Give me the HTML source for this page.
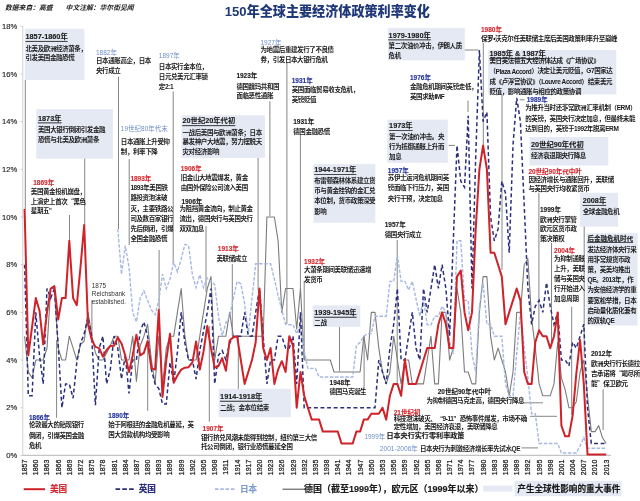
<!DOCTYPE html>
<html><head><meta charset="utf-8"><title>150年全球主要经济体政策利率变化</title>
<style>html,body{margin:0;padding:0;background:#fff;} body{width:640px;height:501px;overflow:hidden;} svg{display:block;font-family:"Liberation Sans","Noto Sans CJK SC",sans-serif;}</style>
</head><body>
<svg width="640" height="501" viewBox="0 0 640 501"><rect width="640" height="501" fill="#fff"/><rect x="24.8" y="28.8" width="59.6" height="51.2" fill="#e5e9f4"/><rect x="36.3" y="109.1" width="76.6" height="49.6" fill="#e5e9f4"/><rect x="181.4" y="115.3" width="83.6" height="42.6" fill="#e5e9f4"/><rect x="387.9" y="27.9" width="76.9" height="32.4" fill="#e5e9f4"/><rect x="488.2" y="50" width="128.1" height="44.5" fill="#e5e9f4"/><rect x="387.3" y="119.7" width="60.5" height="43.1" fill="#e5e9f4"/><rect x="313.4" y="164.1" width="61.9" height="58.7" fill="#e5e9f4"/><rect x="529.5" y="137" width="78.8" height="28.5" fill="#e5e9f4"/><rect x="579.9" y="192.8" width="38.2" height="33.9" fill="#e5e9f4"/><rect x="586.6" y="233.3" width="51.0" height="92.2" fill="#e5e9f4"/><rect x="312.7" y="305.4" width="47.6" height="21.5" fill="#e5e9f4"/><rect x="218.6" y="388.8" width="72.2" height="28.4" fill="#e5e9f4"/><line x1="22.8" y1="26.3" x2="22.8" y2="455.4" stroke="#d2d2d2" stroke-width="1"/><line x1="22.5" y1="455.4" x2="611" y2="455.4" stroke="#c4c4c4" stroke-width="1.2"/><line x1="20.5" y1="455.4" x2="22.8" y2="455.4" stroke="#c4c4c4" stroke-width="0.8"/><text x="17.3" y="455.4" font-size="7.6" fill="#262626" stroke="#262626" stroke-width="0.15" text-anchor="end" dominant-baseline="central">0%</text><line x1="20.5" y1="407.7" x2="22.8" y2="407.7" stroke="#c4c4c4" stroke-width="0.8"/><text x="17.3" y="407.7" font-size="7.6" fill="#262626" stroke="#262626" stroke-width="0.15" text-anchor="end" dominant-baseline="central">2%</text><line x1="20.5" y1="360.0" x2="22.8" y2="360.0" stroke="#c4c4c4" stroke-width="0.8"/><text x="17.3" y="360.0" font-size="7.6" fill="#262626" stroke="#262626" stroke-width="0.15" text-anchor="end" dominant-baseline="central">4%</text><line x1="20.5" y1="312.4" x2="22.8" y2="312.4" stroke="#c4c4c4" stroke-width="0.8"/><text x="17.3" y="312.4" font-size="7.6" fill="#262626" stroke="#262626" stroke-width="0.15" text-anchor="end" dominant-baseline="central">6%</text><line x1="20.5" y1="264.7" x2="22.8" y2="264.7" stroke="#c4c4c4" stroke-width="0.8"/><text x="17.3" y="264.7" font-size="7.6" fill="#262626" stroke="#262626" stroke-width="0.15" text-anchor="end" dominant-baseline="central">8%</text><line x1="20.5" y1="217.0" x2="22.8" y2="217.0" stroke="#c4c4c4" stroke-width="0.8"/><text x="17.3" y="217.0" font-size="7.6" fill="#262626" stroke="#262626" stroke-width="0.15" text-anchor="end" dominant-baseline="central">10%</text><line x1="20.5" y1="169.3" x2="22.8" y2="169.3" stroke="#c4c4c4" stroke-width="0.8"/><text x="17.3" y="169.3" font-size="7.6" fill="#262626" stroke="#262626" stroke-width="0.15" text-anchor="end" dominant-baseline="central">12%</text><line x1="20.5" y1="121.6" x2="22.8" y2="121.6" stroke="#c4c4c4" stroke-width="0.8"/><text x="17.3" y="121.6" font-size="7.6" fill="#262626" stroke="#262626" stroke-width="0.15" text-anchor="end" dominant-baseline="central">14%</text><line x1="20.5" y1="74.0" x2="22.8" y2="74.0" stroke="#c4c4c4" stroke-width="0.8"/><text x="17.3" y="74.0" font-size="7.6" fill="#262626" stroke="#262626" stroke-width="0.15" text-anchor="end" dominant-baseline="central">16%</text><line x1="20.5" y1="26.3" x2="22.8" y2="26.3" stroke="#c4c4c4" stroke-width="0.8"/><text x="17.3" y="26.3" font-size="7.6" fill="#262626" stroke="#262626" stroke-width="0.15" text-anchor="end" dominant-baseline="central">18%</text><text transform="translate(24.60,459.6) rotate(-90)" font-size="7" fill="#1e1e1e" stroke="#1e1e1e" stroke-width="0.25" text-anchor="end" dominant-baseline="central">1857</text><text transform="translate(35.78,459.6) rotate(-90)" font-size="7" fill="#1e1e1e" stroke="#1e1e1e" stroke-width="0.25" text-anchor="end" dominant-baseline="central">1860</text><text transform="translate(46.97,459.6) rotate(-90)" font-size="7" fill="#1e1e1e" stroke="#1e1e1e" stroke-width="0.25" text-anchor="end" dominant-baseline="central">1863</text><text transform="translate(58.15,459.6) rotate(-90)" font-size="7" fill="#1e1e1e" stroke="#1e1e1e" stroke-width="0.25" text-anchor="end" dominant-baseline="central">1866</text><text transform="translate(69.34,459.6) rotate(-90)" font-size="7" fill="#1e1e1e" stroke="#1e1e1e" stroke-width="0.25" text-anchor="end" dominant-baseline="central">1869</text><text transform="translate(80.52,459.6) rotate(-90)" font-size="7" fill="#1e1e1e" stroke="#1e1e1e" stroke-width="0.25" text-anchor="end" dominant-baseline="central">1872</text><text transform="translate(91.70,459.6) rotate(-90)" font-size="7" fill="#1e1e1e" stroke="#1e1e1e" stroke-width="0.25" text-anchor="end" dominant-baseline="central">1875</text><text transform="translate(102.89,459.6) rotate(-90)" font-size="7" fill="#1e1e1e" stroke="#1e1e1e" stroke-width="0.25" text-anchor="end" dominant-baseline="central">1878</text><text transform="translate(114.07,459.6) rotate(-90)" font-size="7" fill="#1e1e1e" stroke="#1e1e1e" stroke-width="0.25" text-anchor="end" dominant-baseline="central">1881</text><text transform="translate(125.26,459.6) rotate(-90)" font-size="7" fill="#1e1e1e" stroke="#1e1e1e" stroke-width="0.25" text-anchor="end" dominant-baseline="central">1884</text><text transform="translate(136.44,459.6) rotate(-90)" font-size="7" fill="#1e1e1e" stroke="#1e1e1e" stroke-width="0.25" text-anchor="end" dominant-baseline="central">1887</text><text transform="translate(147.62,459.6) rotate(-90)" font-size="7" fill="#1e1e1e" stroke="#1e1e1e" stroke-width="0.25" text-anchor="end" dominant-baseline="central">1890</text><text transform="translate(158.81,459.6) rotate(-90)" font-size="7" fill="#1e1e1e" stroke="#1e1e1e" stroke-width="0.25" text-anchor="end" dominant-baseline="central">1893</text><text transform="translate(169.99,459.6) rotate(-90)" font-size="7" fill="#1e1e1e" stroke="#1e1e1e" stroke-width="0.25" text-anchor="end" dominant-baseline="central">1896</text><text transform="translate(181.18,459.6) rotate(-90)" font-size="7" fill="#1e1e1e" stroke="#1e1e1e" stroke-width="0.25" text-anchor="end" dominant-baseline="central">1899</text><text transform="translate(192.36,459.6) rotate(-90)" font-size="7" fill="#1e1e1e" stroke="#1e1e1e" stroke-width="0.25" text-anchor="end" dominant-baseline="central">1902</text><text transform="translate(203.54,459.6) rotate(-90)" font-size="7" fill="#1e1e1e" stroke="#1e1e1e" stroke-width="0.25" text-anchor="end" dominant-baseline="central">1905</text><text transform="translate(214.73,459.6) rotate(-90)" font-size="7" fill="#1e1e1e" stroke="#1e1e1e" stroke-width="0.25" text-anchor="end" dominant-baseline="central">1908</text><text transform="translate(225.91,459.6) rotate(-90)" font-size="7" fill="#1e1e1e" stroke="#1e1e1e" stroke-width="0.25" text-anchor="end" dominant-baseline="central">1911</text><text transform="translate(237.10,459.6) rotate(-90)" font-size="7" fill="#1e1e1e" stroke="#1e1e1e" stroke-width="0.25" text-anchor="end" dominant-baseline="central">1914</text><text transform="translate(248.28,459.6) rotate(-90)" font-size="7" fill="#1e1e1e" stroke="#1e1e1e" stroke-width="0.25" text-anchor="end" dominant-baseline="central">1917</text><text transform="translate(259.46,459.6) rotate(-90)" font-size="7" fill="#1e1e1e" stroke="#1e1e1e" stroke-width="0.25" text-anchor="end" dominant-baseline="central">1920</text><text transform="translate(270.65,459.6) rotate(-90)" font-size="7" fill="#1e1e1e" stroke="#1e1e1e" stroke-width="0.25" text-anchor="end" dominant-baseline="central">1923</text><text transform="translate(281.83,459.6) rotate(-90)" font-size="7" fill="#1e1e1e" stroke="#1e1e1e" stroke-width="0.25" text-anchor="end" dominant-baseline="central">1926</text><text transform="translate(293.02,459.6) rotate(-90)" font-size="7" fill="#1e1e1e" stroke="#1e1e1e" stroke-width="0.25" text-anchor="end" dominant-baseline="central">1929</text><text transform="translate(304.20,459.6) rotate(-90)" font-size="7" fill="#1e1e1e" stroke="#1e1e1e" stroke-width="0.25" text-anchor="end" dominant-baseline="central">1932</text><text transform="translate(315.38,459.6) rotate(-90)" font-size="7" fill="#1e1e1e" stroke="#1e1e1e" stroke-width="0.25" text-anchor="end" dominant-baseline="central">1935</text><text transform="translate(326.57,459.6) rotate(-90)" font-size="7" fill="#1e1e1e" stroke="#1e1e1e" stroke-width="0.25" text-anchor="end" dominant-baseline="central">1938</text><text transform="translate(337.75,459.6) rotate(-90)" font-size="7" fill="#1e1e1e" stroke="#1e1e1e" stroke-width="0.25" text-anchor="end" dominant-baseline="central">1941</text><text transform="translate(348.94,459.6) rotate(-90)" font-size="7" fill="#1e1e1e" stroke="#1e1e1e" stroke-width="0.25" text-anchor="end" dominant-baseline="central">1944</text><text transform="translate(360.12,459.6) rotate(-90)" font-size="7" fill="#1e1e1e" stroke="#1e1e1e" stroke-width="0.25" text-anchor="end" dominant-baseline="central">1947</text><text transform="translate(371.30,459.6) rotate(-90)" font-size="7" fill="#1e1e1e" stroke="#1e1e1e" stroke-width="0.25" text-anchor="end" dominant-baseline="central">1950</text><text transform="translate(382.49,459.6) rotate(-90)" font-size="7" fill="#1e1e1e" stroke="#1e1e1e" stroke-width="0.25" text-anchor="end" dominant-baseline="central">1953</text><text transform="translate(393.67,459.6) rotate(-90)" font-size="7" fill="#1e1e1e" stroke="#1e1e1e" stroke-width="0.25" text-anchor="end" dominant-baseline="central">1956</text><text transform="translate(404.86,459.6) rotate(-90)" font-size="7" fill="#1e1e1e" stroke="#1e1e1e" stroke-width="0.25" text-anchor="end" dominant-baseline="central">1959</text><text transform="translate(416.04,459.6) rotate(-90)" font-size="7" fill="#1e1e1e" stroke="#1e1e1e" stroke-width="0.25" text-anchor="end" dominant-baseline="central">1962</text><text transform="translate(427.22,459.6) rotate(-90)" font-size="7" fill="#1e1e1e" stroke="#1e1e1e" stroke-width="0.25" text-anchor="end" dominant-baseline="central">1965</text><text transform="translate(438.41,459.6) rotate(-90)" font-size="7" fill="#1e1e1e" stroke="#1e1e1e" stroke-width="0.25" text-anchor="end" dominant-baseline="central">1968</text><text transform="translate(449.59,459.6) rotate(-90)" font-size="7" fill="#1e1e1e" stroke="#1e1e1e" stroke-width="0.25" text-anchor="end" dominant-baseline="central">1971</text><text transform="translate(460.78,459.6) rotate(-90)" font-size="7" fill="#1e1e1e" stroke="#1e1e1e" stroke-width="0.25" text-anchor="end" dominant-baseline="central">1974</text><text transform="translate(471.96,459.6) rotate(-90)" font-size="7" fill="#1e1e1e" stroke="#1e1e1e" stroke-width="0.25" text-anchor="end" dominant-baseline="central">1977</text><text transform="translate(483.14,459.6) rotate(-90)" font-size="7" fill="#1e1e1e" stroke="#1e1e1e" stroke-width="0.25" text-anchor="end" dominant-baseline="central">1980</text><text transform="translate(494.33,459.6) rotate(-90)" font-size="7" fill="#1e1e1e" stroke="#1e1e1e" stroke-width="0.25" text-anchor="end" dominant-baseline="central">1983</text><text transform="translate(505.51,459.6) rotate(-90)" font-size="7" fill="#1e1e1e" stroke="#1e1e1e" stroke-width="0.25" text-anchor="end" dominant-baseline="central">1986</text><text transform="translate(516.70,459.6) rotate(-90)" font-size="7" fill="#1e1e1e" stroke="#1e1e1e" stroke-width="0.25" text-anchor="end" dominant-baseline="central">1989</text><text transform="translate(527.88,459.6) rotate(-90)" font-size="7" fill="#1e1e1e" stroke="#1e1e1e" stroke-width="0.25" text-anchor="end" dominant-baseline="central">1992</text><text transform="translate(539.06,459.6) rotate(-90)" font-size="7" fill="#1e1e1e" stroke="#1e1e1e" stroke-width="0.25" text-anchor="end" dominant-baseline="central">1995</text><text transform="translate(550.25,459.6) rotate(-90)" font-size="7" fill="#1e1e1e" stroke="#1e1e1e" stroke-width="0.25" text-anchor="end" dominant-baseline="central">1998</text><text transform="translate(561.43,459.6) rotate(-90)" font-size="7" fill="#1e1e1e" stroke="#1e1e1e" stroke-width="0.25" text-anchor="end" dominant-baseline="central">2001</text><text transform="translate(572.62,459.6) rotate(-90)" font-size="7" fill="#1e1e1e" stroke="#1e1e1e" stroke-width="0.25" text-anchor="end" dominant-baseline="central">2004</text><text transform="translate(583.80,459.6) rotate(-90)" font-size="7" fill="#1e1e1e" stroke="#1e1e1e" stroke-width="0.25" text-anchor="end" dominant-baseline="central">2007</text><text transform="translate(594.98,459.6) rotate(-90)" font-size="7" fill="#1e1e1e" stroke="#1e1e1e" stroke-width="0.25" text-anchor="end" dominant-baseline="central">2010</text><text transform="translate(606.17,459.6) rotate(-90)" font-size="7" fill="#1e1e1e" stroke="#1e1e1e" stroke-width="0.25" text-anchor="end" dominant-baseline="central">2013</text><line x1="25.3" y1="80" x2="25.3" y2="209" stroke="#5e5e5e" stroke-width="0.75"/><line x1="84.7" y1="158.7" x2="84.7" y2="225" stroke="#5e5e5e" stroke-width="0.75"/><line x1="118.5" y1="76.6" x2="118.5" y2="229" stroke="#5e5e5e" stroke-width="0.75"/><line x1="129.2" y1="159.1" x2="129.2" y2="245" stroke="#5e5e5e" stroke-width="0.75"/><line x1="173.2" y1="91.4" x2="173.2" y2="264" stroke="#5e5e5e" stroke-width="0.75"/><line x1="159.1" y1="250" x2="159.1" y2="310" stroke="#5e5e5e" stroke-width="0.75"/><line x1="69.5" y1="215" x2="69.5" y2="240" stroke="#5e5e5e" stroke-width="0.75"/><line x1="269.9" y1="101.2" x2="269.9" y2="216" stroke="#5e5e5e" stroke-width="0.75"/><line x1="286.9" y1="63" x2="286.9" y2="324" stroke="#5e5e5e" stroke-width="0.75"/><line x1="300.4" y1="135.3" x2="300.4" y2="290" stroke="#5e5e5e" stroke-width="0.75"/><line x1="258.1" y1="157.9" x2="258.1" y2="290" stroke="#5e5e5e" stroke-width="0.75"/><line x1="232.3" y1="264" x2="232.3" y2="336" stroke="#5e5e5e" stroke-width="0.75"/><line x1="56.6" y1="417.8" x2="56.6" y2="340" stroke="#5e5e5e" stroke-width="0.75"/><line x1="147.7" y1="410.8" x2="147.7" y2="341" stroke="#5e5e5e" stroke-width="0.75"/><line x1="209.3" y1="421.7" x2="209.3" y2="326" stroke="#5e5e5e" stroke-width="0.75"/><line x1="238.3" y1="388.8" x2="238.3" y2="336" stroke="#5e5e5e" stroke-width="0.75"/><line x1="339.5" y1="326.9" x2="339.5" y2="371.2" stroke="#5e5e5e" stroke-width="0.75"/><line x1="364.1" y1="390" x2="364.1" y2="336" stroke="#5e5e5e" stroke-width="0.75"/><line x1="397.2" y1="240" x2="397.2" y2="383" stroke="#5e5e5e" stroke-width="0.75"/><line x1="304.2" y1="281" x2="304.2" y2="359.5" stroke="#5e5e5e" stroke-width="0.75"/><line x1="206" y1="226" x2="206" y2="292" stroke="#5e5e5e" stroke-width="0.75"/><line x1="464.8" y1="50" x2="478.4" y2="50" stroke="#5e5e5e" stroke-width="0.75"/><line x1="483.3" y1="43" x2="483.3" y2="144.7" stroke="#5e5e5e" stroke-width="0.75"/><line x1="468" y1="100.6" x2="468" y2="112" stroke="#5e5e5e" stroke-width="0.75"/><line x1="448.7" y1="145.4" x2="455" y2="145.4" stroke="#5e5e5e" stroke-width="0.75"/><line x1="502" y1="94.5" x2="502" y2="270" stroke="#5e5e5e" stroke-width="0.75"/><line x1="519.7" y1="99.8" x2="524.5" y2="99.8" stroke="#5e5e5e" stroke-width="0.75"/><line x1="538.9" y1="192.8" x2="538.9" y2="335" stroke="#5e5e5e" stroke-width="0.75"/><line x1="551.5" y1="243" x2="551.5" y2="346" stroke="#5e5e5e" stroke-width="0.75"/><line x1="571.7" y1="306.8" x2="571.7" y2="415" stroke="#5e5e5e" stroke-width="0.75"/><line x1="584.2" y1="226.7" x2="584.2" y2="356" stroke="#5e5e5e" stroke-width="0.75"/><line x1="603.1" y1="389.3" x2="603.1" y2="430" stroke="#5e5e5e" stroke-width="0.75"/><line x1="524" y1="402.8" x2="543" y2="402.8" stroke="#5e5e5e" stroke-width="0.75"/><line x1="530" y1="416.3" x2="557" y2="416.3" stroke="#5e5e5e" stroke-width="0.75"/><line x1="521.5" y1="447.9" x2="538" y2="447.9" stroke="#5e5e5e" stroke-width="0.75"/><line x1="91.9" y1="300" x2="91.9" y2="335" stroke="#5e5e5e" stroke-width="0.75"/><polyline points="24.6,336.2 28.3,372.0 32.1,377.9 35.8,360.0 39.5,360.0 43.2,360.0 47.0,348.1 50.7,288.5 54.4,288.5 58.2,348.1 61.9,360.0 65.6,360.0 69.3,336.2 73.1,348.1 76.8,360.0 80.5,344.5 84.2,341.0 88.0,312.4 91.7,334.8 95.4,352.9 99.2,360.0 102.9,360.0 106.6,352.9 110.3,345.7 114.1,336.2 117.8,336.2 121.5,360.0 125.3,360.0 129.0,360.0 132.7,336.2 136.4,381.5 140.2,345.7 143.9,336.2 147.6,324.3 151.4,360.0 155.1,383.9 158.8,336.2 162.5,386.3 166.3,348.1 170.0,336.2 173.7,336.2 177.4,312.4 181.2,288.5 184.9,336.2 188.6,360.0 192.4,360.0 196.1,360.0 199.8,336.2 203.5,312.4 207.3,288.5 211.0,276.6 214.7,360.0 218.5,336.2 222.2,336.2 225.9,336.2 229.6,312.4 233.4,336.2 237.1,336.2 240.8,336.2 244.6,336.2 248.3,336.2 252.0,336.2 255.7,336.2 259.5,336.2 263.2,336.2 266.9,217.0 270.6,217.0 274.4,217.0 278.1,240.8 281.8,312.4 285.6,288.5 289.3,288.5 293.0,288.5 296.7,329.0 300.5,288.5 304.2,360.0 307.9,360.0 311.7,360.0 315.4,360.0 319.1,360.0 322.8,360.0 326.6,360.0 330.3,360.0 334.0,372.0 337.8,372.0 341.5,372.0 345.2,372.0 348.9,372.0 352.7,372.0 356.4,372.0 360.1,372.0 363.8,336.2 367.6,360.0 371.3,312.4 375.0,312.4 378.8,348.1 382.5,372.0 386.2,383.9 389.9,372.0 393.7,336.2 397.4,360.0 401.1,383.9 404.9,360.0 408.6,360.0 412.3,383.9 416.0,383.9 419.8,383.9 423.5,383.9 427.2,360.0 431.0,336.2 434.7,383.9 438.4,383.9 442.1,312.4 445.9,312.4 449.6,360.0 453.3,348.1 457.0,288.5 460.8,312.4 464.5,372.0 468.2,372.0 472.0,383.9 475.7,383.9 479.4,312.4 483.1,276.6 486.9,276.6 490.6,336.2 494.3,360.0 498.1,348.1 501.8,360.0 505.5,372.0 509.2,395.8 513.0,372.0 516.7,312.4 520.4,312.4 524.2,264.7 527.9,258.7 531.6,318.3 535.3,348.1 539.1,383.9 542.8,395.8 546.5,395.8 550.2,395.8 554.0,383.9 557.7,342.2 561.4,377.9 565.2,389.8 568.9,407.7 572.6,407.7 576.3,401.8 580.1,372.0 583.8,360.0 587.5,395.8 591.3,431.6 595.0,431.6 598.7,425.6 602.4,437.5 606.2,443.5" fill="none" stroke="#7c7c7c" stroke-width="1.1" stroke-linejoin="round"/><polyline points="117.8,228.9 121.5,274.2 125.3,245.6 129.0,267.1 132.7,312.4 136.4,321.9 140.2,298.1 143.9,290.9 147.6,300.4 151.4,310.0 155.1,314.7 158.8,300.4 162.5,274.2 166.3,288.5 170.0,279.0 173.7,262.3 177.4,271.8 181.2,258.7 184.9,244.4 188.6,245.6 192.4,274.9 196.1,287.6 199.8,274.9 203.5,287.6 207.3,278.0 211.0,281.4 214.7,284.5 218.5,316.4 222.2,335.7 225.9,322.8 229.6,316.4 233.4,298.1 237.1,281.4 240.8,283.8 244.6,303.5 248.3,333.8 252.0,298.1 255.7,263.7 259.5,263.7 263.2,263.7 266.9,263.7 270.6,263.7 274.4,279.0 278.1,295.7 281.8,310.0 285.6,324.3 289.3,324.8 293.0,324.8 296.7,333.6 300.5,324.3 304.2,351.0 307.9,368.4 311.7,368.4 315.4,368.4 319.1,377.0 322.8,377.0 326.6,377.0 330.3,377.0 334.0,377.0 337.8,377.0 341.5,377.0 345.2,377.0 348.9,377.0 352.7,377.0 356.4,345.7 360.1,342.2 363.8,336.2 367.6,333.6 371.3,333.6 375.0,316.2 378.8,316.2 382.5,316.2 386.2,316.2 389.9,281.4 393.7,281.4 397.4,255.1 401.1,281.4 404.9,281.4 408.6,290.0 412.3,281.4 416.0,298.8 419.8,316.2 423.5,298.8 427.2,324.8 431.0,324.8 434.7,316.2 438.4,316.2 442.1,306.4 445.9,312.4 449.6,342.2 453.3,354.1 457.0,240.8 460.8,240.8 464.5,300.4 468.2,300.4 472.0,354.1 475.7,372.0 479.4,306.4 483.1,282.6 486.9,324.3 490.6,324.3 494.3,336.2 498.1,336.2 501.8,336.2 505.5,383.9 509.2,395.8 513.0,395.8 516.7,354.1 520.4,312.4 524.2,348.1 527.9,377.9 531.6,413.7 535.3,413.7 539.1,443.5 542.8,443.5 546.5,443.5 550.2,443.5 554.0,443.5 557.7,443.5 561.4,453.0 565.2,453.0 568.9,453.0 572.6,453.0 576.3,453.0 580.1,445.9 583.8,437.5 587.5,448.2 591.3,448.2 595.0,448.2 598.7,448.2 602.4,448.2 606.2,448.2" fill="none" stroke="#a6b8e1" stroke-width="1.4" stroke-dasharray="3.5 1.6"/><polyline points="24.6,264.7 28.3,395.8 32.1,395.8 35.8,312.4 39.5,355.3 43.2,383.9 47.0,288.5 50.7,298.1 54.4,288.5 58.2,345.7 61.9,407.7 65.6,383.9 69.3,383.9 73.1,398.2 76.8,362.4 80.5,343.4 84.2,333.8 88.0,317.1 91.7,336.2 95.4,405.3 99.2,348.1 102.9,336.2 106.6,383.9 110.3,369.6 114.1,336.2 117.8,348.1 121.5,379.1 125.3,355.3 129.0,393.4 132.7,360.0 136.4,360.0 140.2,331.4 143.9,321.9 147.6,336.2 151.4,369.6 155.1,383.9 158.8,388.6 162.5,404.1 166.3,404.1 170.0,362.4 173.7,382.7 177.4,352.2 181.2,312.4 184.9,343.4 188.6,360.0 192.4,360.0 196.1,379.1 199.8,350.5 203.5,331.4 207.3,312.4 211.0,288.5 214.7,383.9 218.5,355.3 222.2,350.5 225.9,360.0 229.6,343.4 233.4,336.2 237.1,336.2 240.8,336.2 244.6,312.4 248.3,336.2 252.0,336.2 255.7,312.4 259.5,288.5 263.2,336.2 266.9,383.9 270.6,360.0 274.4,360.0 278.1,336.2 281.8,336.2 285.6,348.1 289.3,348.1 293.0,336.2 296.7,383.9 300.5,312.4 304.2,407.7 307.9,407.7 311.7,407.7 315.4,407.7 319.1,407.7 322.8,407.7 326.6,407.7 330.3,407.7 334.0,407.7 337.8,407.7 341.5,407.7 345.2,407.7 348.9,407.7 352.7,407.7 356.4,407.7 360.1,407.7 363.8,407.7 367.6,407.7 371.3,407.7 375.0,407.7 378.8,360.0 382.5,372.0 386.2,383.9 389.9,348.1 393.7,324.3 397.4,288.5 401.1,360.0 404.9,360.0 408.6,336.2 412.3,312.4 416.0,348.1 419.8,360.0 423.5,288.5 427.2,312.4 431.0,288.5 434.7,264.7 438.4,288.5 442.1,264.7 445.9,288.5 449.6,336.2 453.3,240.8 457.0,145.5 460.8,181.2 464.5,187.2 468.2,115.7 472.0,288.5 475.7,157.4 479.4,50.1 483.1,121.6 486.9,112.1 490.6,217.0 494.3,240.8 498.1,228.9 501.8,181.2 505.5,193.2 509.2,252.8 513.0,145.5 516.7,97.8 520.4,121.6 524.2,205.1 527.9,288.5 531.6,324.3 535.3,306.4 539.1,300.4 542.8,312.4 546.5,282.6 550.2,306.4 554.0,324.3 557.7,312.4 561.4,360.0 565.2,360.0 568.9,366.0 572.6,342.2 576.3,348.1 580.1,336.2 583.8,324.3 587.5,407.7 591.3,443.5 595.0,443.5 598.7,443.5 602.4,443.5 606.2,443.5" fill="none" stroke="#2a2e7c" stroke-width="1.5" stroke-dasharray="3.9 2.7"/><polyline points="24.6,208.9 28.3,355.3 32.1,326.7 35.8,298.1 39.5,310.7 43.2,344.5 47.0,312.4 50.7,288.5 54.4,286.1 58.2,319.5 61.9,298.1 65.6,298.1 69.3,240.8 73.1,298.1 76.8,305.2 80.5,267.1 84.2,224.9 88.0,324.3 91.7,339.5 95.4,346.9 99.2,348.1 102.9,356.7 106.6,350.0 110.3,346.0 114.1,345.7 117.8,337.4 121.5,343.4 125.3,355.7 129.0,372.0 132.7,355.3 136.4,334.8 140.2,355.3 143.9,352.9 147.6,341.0 151.4,368.4 155.1,369.6 158.8,310.0 162.5,397.0 166.3,360.0 170.0,333.8 173.7,382.7 177.4,375.5 181.2,369.6 184.9,367.7 188.6,367.2 192.4,362.4 196.1,341.4 199.8,369.6 203.5,351.7 207.3,325.9 211.0,348.4 214.7,367.7 218.5,366.0 222.2,358.1 225.9,370.8 229.6,340.5 233.4,337.2 237.1,336.2 240.8,360.0 244.6,383.9 248.3,372.0 252.0,360.0 255.7,342.2 259.5,288.5 263.2,348.1 266.9,360.0 270.6,348.1 274.4,383.9 278.1,369.6 281.8,361.2 285.6,372.0 289.3,336.2 293.0,345.7 296.7,407.7 300.5,372.0 304.2,395.8 307.9,407.7 311.7,419.6 315.4,419.6 319.1,419.6 322.8,431.6 326.6,431.6 330.3,431.6 334.0,431.6 337.8,431.6 341.5,443.5 345.2,443.5 348.9,443.5 352.7,443.5 356.4,431.6 360.1,431.6 363.8,419.6 367.6,419.6 371.3,413.7 375.0,413.7 378.8,413.7 382.5,407.7 386.2,419.6 389.9,395.8 393.7,383.9 397.4,383.9 401.1,395.8 404.9,360.0 408.6,383.9 412.3,383.9 416.0,383.9 419.8,372.0 423.5,360.0 427.2,348.1 431.0,348.1 434.7,348.1 438.4,324.3 442.1,312.4 445.9,324.3 449.6,348.1 453.3,348.1 457.0,276.6 460.8,270.6 464.5,312.4 468.2,330.2 472.0,312.4 475.7,228.9 479.4,169.3 483.1,145.5 486.9,169.3 490.6,252.8 494.3,252.8 498.1,264.7 501.8,276.6 505.5,324.3 509.2,312.4 513.0,300.4 516.7,288.5 520.4,300.4 524.2,372.0 527.9,383.9 531.6,383.9 535.3,342.2 539.1,330.2 542.8,336.2 546.5,336.2 550.2,348.1 554.0,336.2 557.7,312.4 561.4,425.6 565.2,436.3 568.9,436.3 572.6,415.6 576.3,373.9 580.1,340.0 583.8,383.9 587.5,454.4 591.3,454.4 595.0,454.4 598.7,454.4 602.4,454.4 606.2,454.4" fill="none" stroke="#cf2229" stroke-width="2.0" stroke-linejoin="round"/><text x="25.5" y="36.5" font-size="7.3" font-weight="bold" fill="#1a1a1a" stroke="#1a1a1a" stroke-width="0.12" dominant-baseline="central" text-decoration="underline">1857-1860年</text><text x="25.5" y="48.1" font-size="6.5" letter-spacing="-0.40" font-weight="bold" fill="#1a1a1a" dominant-baseline="central">北美及欧洲经济萧条，</text><text x="25.5" y="57.8" font-size="6.5" letter-spacing="-0.40" font-weight="bold" fill="#1a1a1a" dominant-baseline="central">引发美国金融恐慌</text><text x="38" y="118" font-size="7.3" font-weight="bold" fill="#1a1a1a" stroke="#1a1a1a" stroke-width="0.12" dominant-baseline="central" text-decoration="underline">1873年</text><text x="38" y="129.2" font-size="6.5" letter-spacing="-0.40" font-weight="bold" fill="#1a1a1a" dominant-baseline="central">美国大银行倒闭引发金融</text><text x="38" y="139.0" font-size="6.5" letter-spacing="-0.40" font-weight="bold" fill="#1a1a1a" dominant-baseline="central">恐慌与北美及欧洲萧条</text><text x="182.5" y="120.8" font-size="7.3" font-weight="bold" fill="#1a1a1a" stroke="#1a1a1a" stroke-width="0.12" dominant-baseline="central" text-decoration="underline">20世纪20年代初</text><text x="182.5" y="132.0" font-size="6.5" letter-spacing="-0.40" font-weight="bold" fill="#1a1a1a" dominant-baseline="central">一战后美国与欧洲萧条；日本</text><text x="182.5" y="141.95" font-size="6.5" letter-spacing="-0.40" font-weight="bold" fill="#1a1a1a" dominant-baseline="central">暴发神户大地震，努力摆脱天</text><text x="182.5" y="151.9" font-size="6.5" letter-spacing="-0.40" font-weight="bold" fill="#1a1a1a" dominant-baseline="central">灾对经济影响</text><text x="388.6" y="35" font-size="7.3" font-weight="bold" fill="#1a1a1a" stroke="#1a1a1a" stroke-width="0.12" dominant-baseline="central" text-decoration="underline">1979-1980年</text><text x="388.6" y="45.9" font-size="6.5" letter-spacing="-0.40" font-weight="bold" fill="#1a1a1a" dominant-baseline="central">第二次油价冲击，伊朗人质</text><text x="388.6" y="55.599999999999994" font-size="6.5" letter-spacing="-0.40" font-weight="bold" fill="#1a1a1a" dominant-baseline="central">危机</text><text x="489.5" y="53.8" font-size="7.3" font-weight="bold" fill="#1a1a1a" stroke="#1a1a1a" stroke-width="0.12" dominant-baseline="central" text-decoration="underline">1985年 & 1987年</text><text x="489.5" y="60.5" font-size="6.5" letter-spacing="-0.40" font-weight="bold" fill="#1a1a1a" dominant-baseline="central">美日英法德五大经济体达成《广场协议》</text><text x="489.5" y="70.8" font-size="6.5" letter-spacing="-0.40" font-weight="bold" fill="#1a1a1a" dominant-baseline="central">（<tspan font-weight='bold'>Plaza Accord</tspan>）决定让美元贬值，G7国家达</text><text x="489.5" y="81.1" font-size="6.5" letter-spacing="-0.40" font-weight="bold" fill="#1a1a1a" dominant-baseline="central">成《卢浮宫协议》（<tspan font-weight='bold'>Louvre Accord</tspan>）结束美元</text><text x="489.5" y="91.4" font-size="6.5" letter-spacing="-0.40" font-weight="bold" fill="#1a1a1a" dominant-baseline="central">贬值，影响通胀与相应的政策协调</text><text x="389.1" y="125.7" font-size="7.3" font-weight="bold" fill="#1a1a1a" stroke="#1a1a1a" stroke-width="0.12" dominant-baseline="central" text-decoration="underline">1973年</text><text x="389.1" y="136.6" font-size="6.5" letter-spacing="-0.40" font-weight="bold" fill="#1a1a1a" dominant-baseline="central">第一次油价冲击。央</text><text x="389.1" y="146.6" font-size="6.5" letter-spacing="-0.40" font-weight="bold" fill="#1a1a1a" dominant-baseline="central">行为抵御通胀上升而</text><text x="389.1" y="156.6" font-size="6.5" letter-spacing="-0.40" font-weight="bold" fill="#1a1a1a" dominant-baseline="central">加息</text><text x="314.2" y="169.7" font-size="7.3" font-weight="bold" fill="#1a1a1a" stroke="#1a1a1a" stroke-width="0.12" dominant-baseline="central" text-decoration="underline">1944-1971年</text><text x="314.2" y="180.4" font-size="6.5" letter-spacing="-0.40" font-weight="bold" fill="#1a1a1a" dominant-baseline="central">布雷顿森林体系建立货</text><text x="314.2" y="190.6" font-size="6.5" letter-spacing="-0.40" font-weight="bold" fill="#1a1a1a" dominant-baseline="central">币与黄金挂钩的金汇兑</text><text x="314.2" y="200.8" font-size="6.5" letter-spacing="-0.40" font-weight="bold" fill="#1a1a1a" dominant-baseline="central">本位制，货币政策深受</text><text x="314.2" y="211.0" font-size="6.5" letter-spacing="-0.40" font-weight="bold" fill="#1a1a1a" dominant-baseline="central">影响</text><text x="531" y="144.3" font-size="7.3" font-weight="bold" fill="#1a1a1a" stroke="#1a1a1a" stroke-width="0.12" dominant-baseline="central" text-decoration="underline">20世纪90年代初</text><text x="531" y="155.6" font-size="6.5" letter-spacing="-0.40" font-weight="bold" fill="#1a1a1a" dominant-baseline="central">经济衰退期央行降息</text><text x="582.7" y="200.5" font-size="7.3" font-weight="bold" fill="#1a1a1a" stroke="#1a1a1a" stroke-width="0.12" dominant-baseline="central" text-decoration="underline">2008年</text><text x="582.7" y="211.4" font-size="6.5" letter-spacing="-0.40" font-weight="bold" fill="#1a1a1a" dominant-baseline="central">全球金融危机</text><text x="587.5" y="238.8" font-size="6.5" font-weight="bold" fill="#1a1a1a" stroke="#1a1a1a" stroke-width="0.12" dominant-baseline="central" text-decoration="underline">后金融危机时代</text><text x="587.5" y="249.3" font-size="6.5" letter-spacing="-0.40" font-weight="bold" fill="#1a1a1a" dominant-baseline="central">发达经济体央行采</text><text x="587.5" y="259.45" font-size="6.5" letter-spacing="-0.40" font-weight="bold" fill="#1a1a1a" dominant-baseline="central">用非常规货币政</text><text x="587.5" y="269.6" font-size="6.5" letter-spacing="-0.40" font-weight="bold" fill="#1a1a1a" dominant-baseline="central">策，英美均推出</text><text x="587.5" y="279.75" font-size="6.5" letter-spacing="-0.40" font-weight="bold" fill="#1a1a1a" dominant-baseline="central">QE。2013年，作</text><text x="587.5" y="289.90000000000003" font-size="6.5" letter-spacing="-0.40" font-weight="bold" fill="#1a1a1a" dominant-baseline="central">为安倍经济学的重</text><text x="587.5" y="300.05" font-size="6.5" letter-spacing="-0.40" font-weight="bold" fill="#1a1a1a" dominant-baseline="central">要宽松举措，日本</text><text x="587.5" y="310.20000000000005" font-size="6.5" letter-spacing="-0.40" font-weight="bold" fill="#1a1a1a" dominant-baseline="central">启动量化质化兼有</text><text x="587.5" y="320.35" font-size="6.5" letter-spacing="-0.40" font-weight="bold" fill="#1a1a1a" dominant-baseline="central">的双轨QE</text><text x="314.3" y="312.4" font-size="7.3" font-weight="bold" fill="#1a1a1a" stroke="#1a1a1a" stroke-width="0.12" dominant-baseline="central" text-decoration="underline">1939-1945年</text><text x="314.3" y="322.9" font-size="6.5" letter-spacing="-0.40" font-weight="bold" fill="#1a1a1a" dominant-baseline="central">二战</text><text x="220.1" y="396.4" font-size="7.3" font-weight="bold" fill="#1a1a1a" stroke="#1a1a1a" stroke-width="0.12" dominant-baseline="central" text-decoration="underline">1914-1918年</text><text x="220.1" y="407.3" font-size="6.5" letter-spacing="-0.40" font-weight="bold" fill="#1a1a1a" dominant-baseline="central">二战；金本位结束</text><text x="96" y="52.2" font-size="6.5" font-weight="normal" fill="#6f8fc7" dominant-baseline="central">1882年</text><text x="96" y="60.3" font-size="6.5" letter-spacing="-0.40" font-weight="bold" fill="#1a1a1a" dominant-baseline="central">日本通胀高企，日本</text><text x="96" y="70.39999999999999" font-size="6.5" letter-spacing="-0.40" font-weight="bold" fill="#1a1a1a" dominant-baseline="central">央行成立</text><text x="158.8" y="55.2" font-size="6.5" font-weight="normal" fill="#6f8fc7" dominant-baseline="central">1897年</text><text x="158.8" y="66.2" font-size="6.5" letter-spacing="-0.40" font-weight="bold" fill="#1a1a1a" dominant-baseline="central">日本实行金本位，</text><text x="158.8" y="76.3" font-size="6.5" letter-spacing="-0.40" font-weight="bold" fill="#1a1a1a" dominant-baseline="central">日元兑美元汇率锁</text><text x="158.8" y="86.4" font-size="6.5" letter-spacing="-0.40" font-weight="bold" fill="#1a1a1a" dominant-baseline="central">定2:1</text><text x="260.5" y="42.1" font-size="6.5" font-weight="normal" fill="#6f8fc7" dominant-baseline="central">1927年</text><text x="260.5" y="49.8" font-size="6.5" letter-spacing="-0.40" font-weight="bold" fill="#1a1a1a" dominant-baseline="central">为地震后重建发行了不良债</text><text x="260.5" y="59.599999999999994" font-size="6.5" letter-spacing="-0.40" font-weight="bold" fill="#1a1a1a" dominant-baseline="central">券，引发日本大银行危机</text><text x="236.4" y="75" font-size="6.5" font-weight="bold" fill="#1a1a1a" stroke="#1a1a1a" stroke-width="0.12" dominant-baseline="central">1923年</text><text x="236.4" y="86.0" font-size="6.5" letter-spacing="-0.40" font-weight="bold" fill="#1a1a1a" dominant-baseline="central">德国魏玛共和国</text><text x="236.4" y="95.8" font-size="6.5" letter-spacing="-0.40" font-weight="bold" fill="#1a1a1a" dominant-baseline="central">面临恶性通胀</text><text x="291.7" y="80.5" font-size="6.5" font-weight="bold" fill="#24349a" stroke="#24349a" stroke-width="0.12" dominant-baseline="central">1931年</text><text x="291.7" y="89.2" font-size="6.5" letter-spacing="-0.40" font-weight="bold" fill="#1a1a1a" dominant-baseline="central">英国面临贸易收支危机，</text><text x="291.7" y="99.10000000000001" font-size="6.5" letter-spacing="-0.40" font-weight="bold" fill="#1a1a1a" dominant-baseline="central">英镑贬值</text><text x="293.2" y="121" font-size="6.5" font-weight="bold" fill="#1a1a1a" stroke="#1a1a1a" stroke-width="0.12" dominant-baseline="central">1931年</text><text x="293.2" y="131.4" font-size="6.5" letter-spacing="-0.40" font-weight="bold" fill="#1a1a1a" dominant-baseline="central">德国金融恐慌</text><text x="481" y="29.5" font-size="6.5" font-weight="bold" fill="#d42a30" stroke="#d42a30" stroke-width="0.12" dominant-baseline="central">1980年</text><text x="481" y="38.6" font-size="6.5" letter-spacing="-0.40" font-weight="bold" fill="#1a1a1a" dominant-baseline="central">保罗•沃克尔任美联储主席后美国政策利率升至巅峰</text><text x="410" y="77.2" font-size="6.5" font-weight="bold" fill="#24349a" stroke="#24349a" stroke-width="0.12" dominant-baseline="central">1976年</text><text x="410" y="86.6" font-size="6.5" letter-spacing="-0.40" font-weight="bold" fill="#1a1a1a" dominant-baseline="central">金融危机期间英镑走低，</text><text x="410" y="96.5" font-size="6.5" letter-spacing="-0.40" font-weight="bold" fill="#1a1a1a" dominant-baseline="central">英国求助IMF</text><text x="526.7" y="99.8" font-size="6.5" font-weight="bold" fill="#24349a" stroke="#24349a" stroke-width="0.12" dominant-baseline="central">1989年</text><text x="525.2" y="107.6" font-size="6.5" letter-spacing="-0.40" font-weight="bold" fill="#1a1a1a" dominant-baseline="central">为推升当时还非常欧洲汇率机制（ERM）</text><text x="525.2" y="118.0" font-size="6.5" letter-spacing="-0.40" font-weight="bold" fill="#1a1a1a" dominant-baseline="central">的英镑，英国央行决定加息，但最终未能</text><text x="525.2" y="128.4" font-size="6.5" letter-spacing="-0.40" font-weight="bold" fill="#1a1a1a" dominant-baseline="central">达到目的，英镑于1992年脱离ERM</text><text x="120.8" y="128.7" font-size="6.5" font-weight="normal" fill="#6f8fc7" dominant-baseline="central">19世纪80年代末</text><text x="120.8" y="141.1" font-size="6.5" letter-spacing="-0.40" font-weight="bold" fill="#1a1a1a" dominant-baseline="central">日本通胀上升受抑</text><text x="120.8" y="151.2" font-size="6.5" letter-spacing="-0.40" font-weight="bold" fill="#1a1a1a" dominant-baseline="central">制，利率下降</text><text x="33.2" y="182.2" font-size="6.5" font-weight="bold" fill="#d42a30" stroke="#d42a30" stroke-width="0.12" dominant-baseline="central">1869年</text><text x="30.8" y="191.5" font-size="6.5" letter-spacing="-0.40" font-weight="bold" fill="#1a1a1a" dominant-baseline="central">美国黄金投机崩盘，</text><text x="30.8" y="201.1" font-size="6.5" letter-spacing="-0.40" font-weight="bold" fill="#1a1a1a" dominant-baseline="central">上演史上首次<tspan font-family='Noto Sans CJK SC' style='font-feature-settings:"fwid"'>“</tspan>黑色</text><text x="30.8" y="210.7" font-size="6.5" letter-spacing="-0.40" font-weight="bold" fill="#1a1a1a" dominant-baseline="central">星期五<tspan font-family='Noto Sans CJK SC' style='font-feature-settings:"fwid"'>”</tspan></text><text x="130.4" y="178.7" font-size="6.5" font-weight="bold" fill="#d42a30" stroke="#d42a30" stroke-width="0.12" dominant-baseline="central">1893年</text><text x="130.4" y="187.8" font-size="6.5" letter-spacing="-0.40" font-weight="bold" fill="#1a1a1a" dominant-baseline="central">1893年美国铁</text><text x="130.4" y="197.9" font-size="6.5" letter-spacing="-0.40" font-weight="bold" fill="#1a1a1a" dominant-baseline="central">路投资泡沫破</text><text x="130.4" y="208.0" font-size="6.5" letter-spacing="-0.40" font-weight="bold" fill="#1a1a1a" dominant-baseline="central">灭，主要铁路公</text><text x="130.4" y="218.10000000000002" font-size="6.5" letter-spacing="-0.40" font-weight="bold" fill="#1a1a1a" dominant-baseline="central">司及数百家银行</text><text x="130.4" y="228.20000000000002" font-size="6.5" letter-spacing="-0.40" font-weight="bold" fill="#1a1a1a" dominant-baseline="central">先后倒闭，引爆</text><text x="130.4" y="238.3" font-size="6.5" letter-spacing="-0.40" font-weight="bold" fill="#1a1a1a" dominant-baseline="central">全国金融恐慌</text><text x="180.7" y="168.7" font-size="6.5" font-weight="bold" fill="#d42a30" stroke="#d42a30" stroke-width="0.12" dominant-baseline="central">1906年</text><text x="180.7" y="177.5" font-size="6.5" letter-spacing="-0.40" font-weight="bold" fill="#1a1a1a" dominant-baseline="central">旧金山大地震爆发，黄金</text><text x="180.7" y="187.8" font-size="6.5" letter-spacing="-0.40" font-weight="bold" fill="#1a1a1a" dominant-baseline="central">由国外保险公司流入美国</text><text x="181.4" y="201" font-size="6.5" font-weight="bold" fill="#1a1a1a" stroke="#1a1a1a" stroke-width="0.12" dominant-baseline="central">1906年</text><text x="179.5" y="208.2" font-size="6.5" letter-spacing="-0.40" font-weight="bold" fill="#1a1a1a" dominant-baseline="central">为阻挡黄金流向，制止黄金</text><text x="179.5" y="218.2" font-size="6.5" letter-spacing="-0.40" font-weight="bold" fill="#1a1a1a" dominant-baseline="central">流出，德国央行与英国央行</text><text x="179.5" y="228.2" font-size="6.5" letter-spacing="-0.40" font-weight="bold" fill="#1a1a1a" dominant-baseline="central">双双加息</text><text x="217.8" y="248.8" font-size="6.5" font-weight="bold" fill="#d42a30" stroke="#d42a30" stroke-width="0.12" dominant-baseline="central">1913年</text><text x="216.5" y="258.1" font-size="6.5" letter-spacing="-0.40" font-weight="bold" fill="#1a1a1a" dominant-baseline="central">美联储成立</text><text x="304.1" y="261" font-size="6.5" font-weight="bold" fill="#d42a30" stroke="#d42a30" stroke-width="0.12" dominant-baseline="central">1932年</text><text x="304.1" y="269.0" font-size="6.5" letter-spacing="-0.40" font-weight="bold" fill="#1a1a1a" dominant-baseline="central">大萧条期间美联储迅速增</text><text x="304.1" y="279.1" font-size="6.5" letter-spacing="-0.40" font-weight="bold" fill="#1a1a1a" dominant-baseline="central">发货币</text><text x="387.8" y="170.3" font-size="6.5" font-weight="bold" fill="#24349a" stroke="#24349a" stroke-width="0.12" dominant-baseline="central">1957年</text><text x="387.8" y="177.5" font-size="6.5" letter-spacing="-0.40" font-weight="bold" fill="#1a1a1a" dominant-baseline="central">苏伊士运河危机期间英</text><text x="387.8" y="187.8" font-size="6.5" letter-spacing="-0.40" font-weight="bold" fill="#1a1a1a" dominant-baseline="central">镑面临下行压力，英国</text><text x="387.8" y="198.1" font-size="6.5" letter-spacing="-0.40" font-weight="bold" fill="#1a1a1a" dominant-baseline="central">央行干预，决定加息</text><text x="384.7" y="224.6" font-size="6.5" font-weight="bold" fill="#1a1a1a" stroke="#1a1a1a" stroke-width="0.12" dominant-baseline="central">1957年</text><text x="384.7" y="234.4" font-size="6.5" letter-spacing="-0.40" font-weight="bold" fill="#1a1a1a" dominant-baseline="central">德国央行成立</text><text x="528.4" y="171.4" font-size="6.5" font-weight="bold" fill="#d42a30" stroke="#d42a30" stroke-width="0.12" dominant-baseline="central">20世纪90年代中叶</text><text x="528.4" y="179.3" font-size="6.5" letter-spacing="-0.40" font-weight="bold" fill="#1a1a1a" dominant-baseline="central">因经济增长与通胀回升，美联储</text><text x="528.4" y="188.5" font-size="6.5" letter-spacing="-0.40" font-weight="bold" fill="#1a1a1a" dominant-baseline="central">与英国央行均收紧货币</text><text x="540" y="209.2" font-size="6.5" font-weight="bold" fill="#1a1a1a" stroke="#1a1a1a" stroke-width="0.12" dominant-baseline="central">1999年</text><text x="540" y="219.0" font-size="6.5" letter-spacing="-0.40" font-weight="bold" fill="#1a1a1a" dominant-baseline="central">欧洲央行掌管</text><text x="540" y="228.9" font-size="6.5" letter-spacing="-0.40" font-weight="bold" fill="#1a1a1a" dominant-baseline="central">欧元区货币政</text><text x="540" y="238.8" font-size="6.5" letter-spacing="-0.40" font-weight="bold" fill="#1a1a1a" dominant-baseline="central">策决策权</text><text x="554.1" y="250.9" font-size="6.5" font-weight="bold" fill="#d42a30" stroke="#d42a30" stroke-width="0.12" dominant-baseline="central">2004年</text><text x="554.1" y="258.5" font-size="6.5" letter-spacing="-0.40" font-weight="bold" fill="#1a1a1a" dominant-baseline="central">为抑制通胀</text><text x="554.1" y="268.5" font-size="6.5" letter-spacing="-0.40" font-weight="bold" fill="#1a1a1a" dominant-baseline="central">上升，美联</text><text x="554.1" y="278.5" font-size="6.5" letter-spacing="-0.40" font-weight="bold" fill="#1a1a1a" dominant-baseline="central">储与英国央</text><text x="554.1" y="288.5" font-size="6.5" letter-spacing="-0.40" font-weight="bold" fill="#1a1a1a" dominant-baseline="central">行开始进入</text><text x="554.1" y="298.5" font-size="6.5" letter-spacing="-0.40" font-weight="bold" fill="#1a1a1a" dominant-baseline="central">加息周期</text><text x="591" y="353" font-size="6.5" font-weight="bold" fill="#1a1a1a" stroke="#1a1a1a" stroke-width="0.12" dominant-baseline="central">2012年</text><text x="591" y="363.4" font-size="6.5" letter-spacing="-0.40" font-weight="bold" fill="#1a1a1a" dominant-baseline="central">欧洲央行行长德拉</text><text x="591" y="373.4" font-size="6.5" letter-spacing="-0.40" font-weight="bold" fill="#1a1a1a" dominant-baseline="central">吉承诺将<tspan font-family='Noto Sans CJK SC' style='font-feature-settings:"fwid"'>“</tspan>竭尽所</text><text x="591" y="383.4" font-size="6.5" letter-spacing="-0.40" font-weight="bold" fill="#1a1a1a" dominant-baseline="central">能<tspan font-family='Noto Sans CJK SC' style='font-feature-settings:"fwid"'>”</tspan>保卫欧元</text><text x="329.6" y="382.1" font-size="6.5" font-weight="bold" fill="#1a1a1a" stroke="#1a1a1a" stroke-width="0.12" dominant-baseline="central">1948年</text><text x="329.6" y="391.4" font-size="6.5" letter-spacing="-0.40" font-weight="bold" fill="#1a1a1a" dominant-baseline="central">德国马克诞生</text><text x="29" y="417.8" font-size="6.5" font-weight="bold" fill="#24349a" stroke="#24349a" stroke-width="0.12" dominant-baseline="central">1866年</text><text x="29" y="424.8" font-size="6.5" letter-spacing="-0.40" font-weight="bold" fill="#1a1a1a" dominant-baseline="central">伦敦最大的贴现银行</text><text x="29" y="435.0" font-size="6.5" letter-spacing="-0.40" font-weight="bold" fill="#1a1a1a" dominant-baseline="central">倒闭，引爆英国金融</text><text x="29" y="445.2" font-size="6.5" letter-spacing="-0.40" font-weight="bold" fill="#1a1a1a" dominant-baseline="central">危机</text><text x="108.3" y="415.2" font-size="6.5" font-weight="bold" fill="#24349a" stroke="#24349a" stroke-width="0.12" dominant-baseline="central">1890年</text><text x="108.3" y="424.3" font-size="6.5" letter-spacing="-0.40" font-weight="bold" fill="#1a1a1a" dominant-baseline="central">始于阿根廷的金融危机蔓延，英</text><text x="108.3" y="434.2" font-size="6.5" letter-spacing="-0.40" font-weight="bold" fill="#1a1a1a" dominant-baseline="central">国大贷款机构均受影响</text><text x="202.6" y="428.6" font-size="6.5" font-weight="bold" fill="#d42a30" stroke="#d42a30" stroke-width="0.12" dominant-baseline="central">1907年</text><text x="201" y="437.3" font-size="6.5" letter-spacing="-0.40" font-weight="bold" fill="#1a1a1a" dominant-baseline="central">银行挤兑风潮未能得到控制，纽约第三大信</text><text x="201" y="446.7" font-size="6.5" letter-spacing="-0.40" font-weight="bold" fill="#1a1a1a" dominant-baseline="central">托公司倒闭，银行业恐慌蔓延全国</text><text x="437.7" y="391.8" font-size="6.5" font-weight="bold" fill="#1a1a1a" stroke="#1a1a1a" stroke-width="0.12" dominant-baseline="central">20世纪90年代中叶</text><text x="426.6" y="400.3" font-size="6.5" letter-spacing="-0.40" font-weight="bold" fill="#1a1a1a" dominant-baseline="central">为抑制德国马克走高，德国央行降息</text><text x="393.7" y="412.5" font-size="6.5" font-weight="bold" fill="#d42a30" stroke="#d42a30" stroke-width="0.12" dominant-baseline="central">21世纪初</text><text x="393.7" y="418.6" font-size="6.5" letter-spacing="-0.40" font-weight="bold" fill="#1a1a1a" dominant-baseline="central">科技泡沫破灭、<tspan font-family='Noto Sans CJK SC' style='font-feature-settings:"fwid"'>“</tspan>9-11<tspan font-family='Noto Sans CJK SC' style='font-feature-settings:"fwid"'>”</tspan>恐怖事件爆发，市场不确</text><text x="393.7" y="426.3" font-size="6.5" letter-spacing="-0.40" font-weight="bold" fill="#1a1a1a" dominant-baseline="central">定性增加，美国经济衰退，美联储降息</text><text x="364.5" y="436.0" font-size="6.4" font-weight="normal" fill="#6f8fc7" dominant-baseline="central">1999年</text><text x="386.4" y="436.4" font-size="7.1" font-weight="bold" fill="#1a1a1a" stroke="#1a1a1a" stroke-width="0.12" dominant-baseline="central">日本央行实行零利率政策</text><text x="379.8" y="448.5" font-size="6.6" font-weight="normal" fill="#6f8fc7" dominant-baseline="central">2001-2006年</text><text x="420.0" y="448.5" font-size="6.5" letter-spacing="-0.40" font-weight="bold" fill="#1a1a1a" dominant-baseline="central">日本央行为刺激经济增长率先试水QE</text><text x="91.8" y="285.8" font-size="6.4" font-weight="normal" fill="#333" dominant-baseline="central">1875</text><text x="91.8" y="293.4" font-size="6.4" font-weight="normal" fill="#333" dominant-baseline="central">Reichsbank</text><text x="91.8" y="301.1" font-size="6.4" font-weight="normal" fill="#333" dominant-baseline="central">established.</text><text x="5" y="7.5" font-size="6.8" font-style="italic" font-weight="bold" fill="#1a1a1a" dominant-baseline="central">数据来自：高盛</text><text x="65.6" y="7.5" font-size="6.8" font-style="italic" font-weight="bold" fill="#1a1a1a" dominant-baseline="central">中文注解：华尔街见闻</text><text x="224.8" y="11" font-size="13.1" font-weight="900" fill="#1f3877" dominant-baseline="central">150年全球主要经济体政策利率变化</text><line x1="23.7" y1="489.2" x2="45" y2="489.2" stroke="#cf2229" stroke-width="2"/><text x="50" y="489" font-size="8.6" font-weight="bold" fill="#d42a30" stroke="#d42a30" stroke-width="0.15" dominant-baseline="central">美国</text><line x1="115.5" y1="489.2" x2="134" y2="489.2" stroke="#2a2e7c" stroke-width="1.8" stroke-dasharray="4.6 2.2"/><text x="138.7" y="489" font-size="8.6" font-weight="bold" fill="#2a2e7c" stroke="#2a2e7c" stroke-width="0.15" dominant-baseline="central">英国</text><line x1="215" y1="489.2" x2="234.6" y2="489.2" stroke="#a6b8e1" stroke-width="1.8" stroke-dasharray="3.5 1.8"/><text x="240" y="489" font-size="8.6" font-weight="bold" fill="#7f9ad0" stroke="#7f9ad0" stroke-width="0.15" dominant-baseline="central">日本</text><line x1="282.5" y1="489.2" x2="304" y2="489.2" stroke="#333" stroke-width="0.9"/><text x="304" y="489" font-size="9" font-weight="bold" fill="#1a1a1a" stroke="#1a1a1a" stroke-width="0.15" dominant-baseline="central">德国（截至1999年），欧元区（1999年以来）</text><rect x="483.3" y="485.6" width="29.2" height="5.9" fill="#e5e9f4"/><rect x="514.6" y="480.8" width="106.8" height="15.4" fill="#e5e9f4"/><text x="517.3" y="488.8" font-size="8.6" font-weight="bold" fill="#1a1a1a" stroke="#1a1a1a" stroke-width="0.15" dominant-baseline="central">产生全球性影响的重大事件</text></svg>
</body></html>
